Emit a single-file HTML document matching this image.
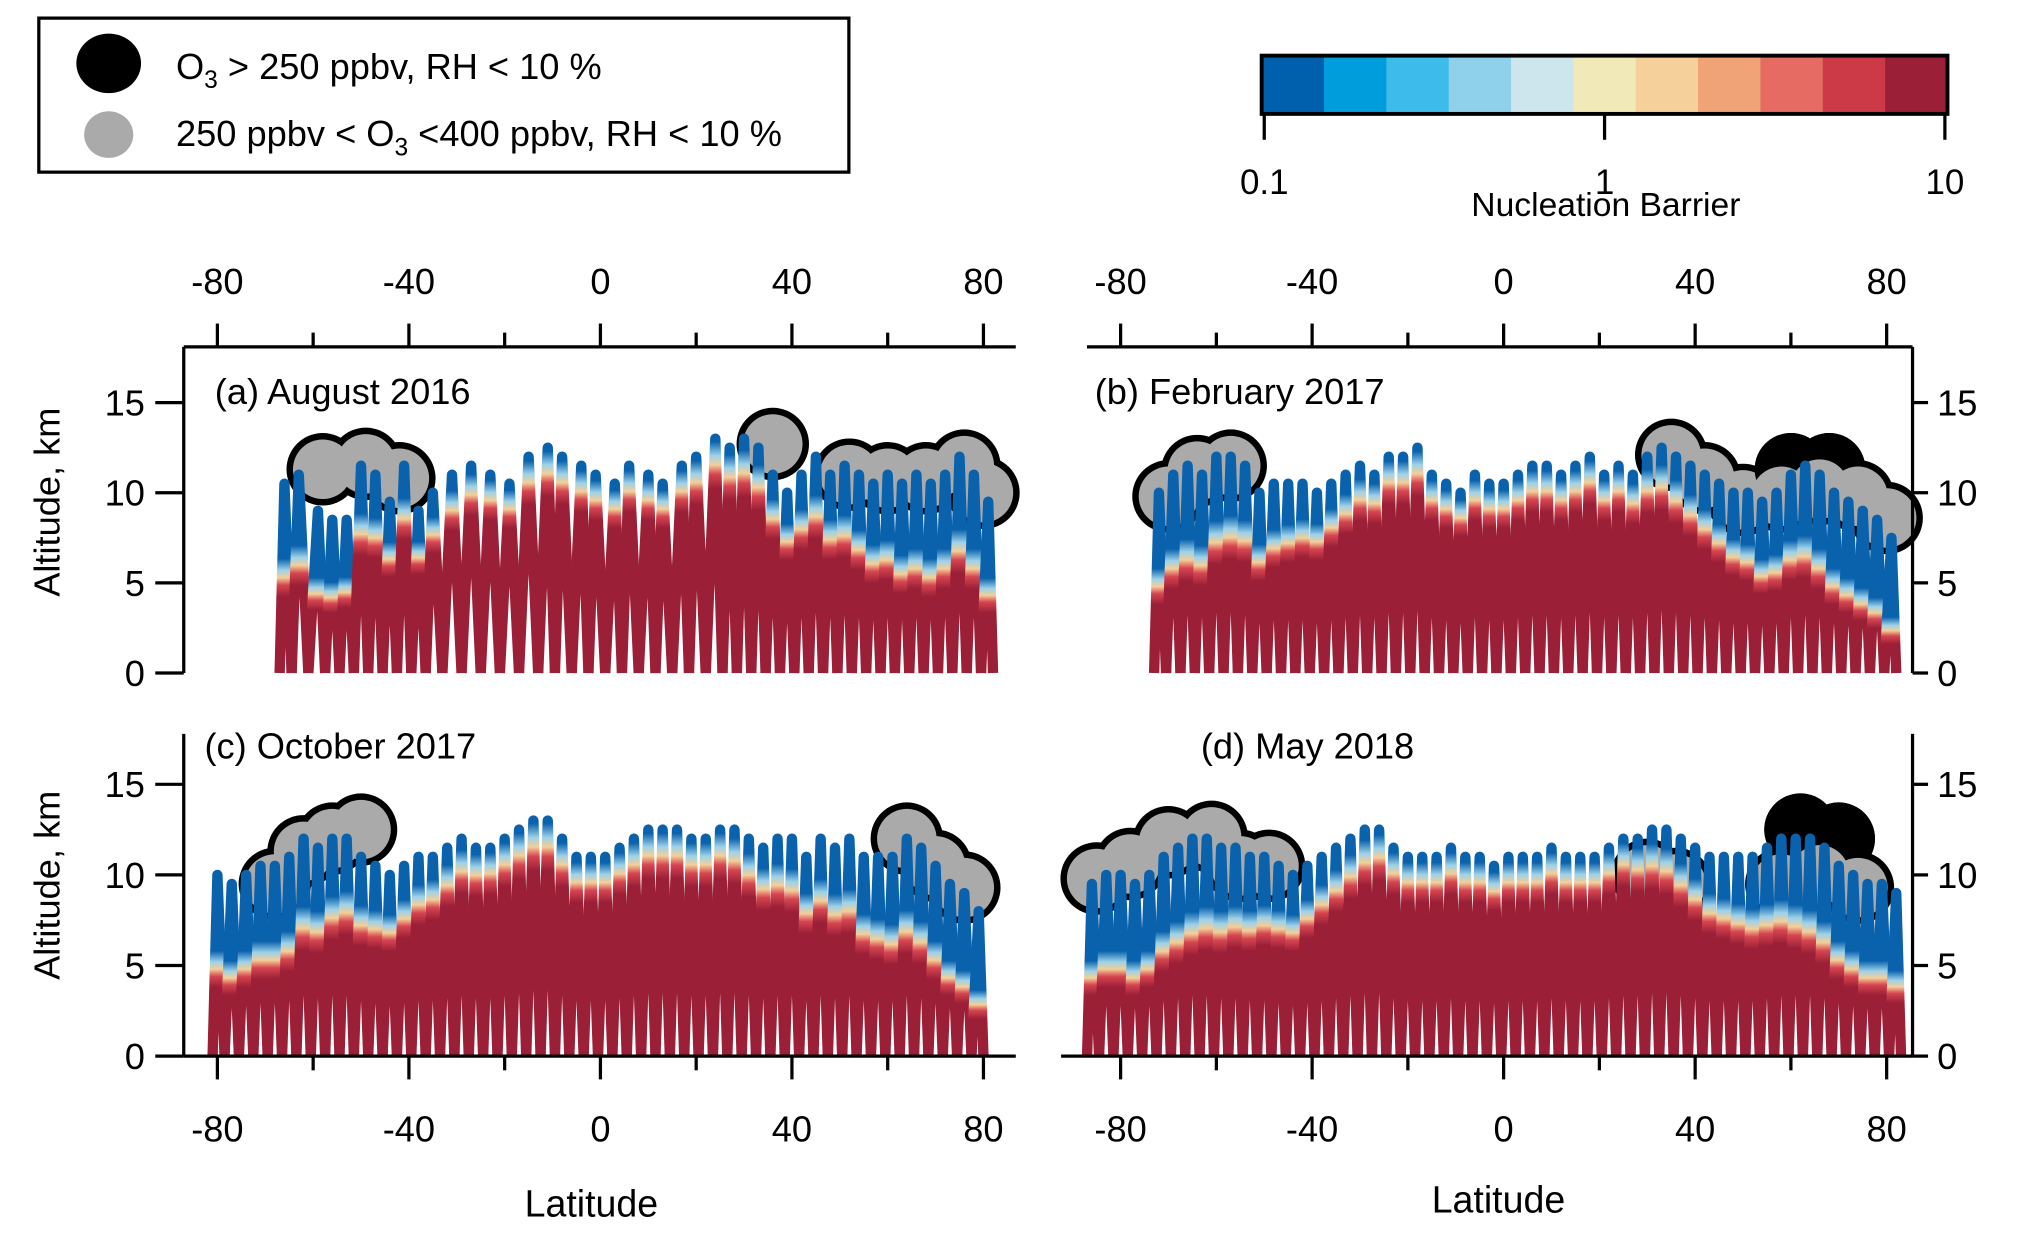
<!DOCTYPE html>
<html><head><meta charset="utf-8"><style>
html,body{margin:0;padding:0;background:#fff;}
svg{display:block;font-family:"Liberation Sans",Arial,sans-serif;}
</style></head><body>
<svg id="fig" width="2029" height="1236" viewBox="0 0 1568 955" preserveAspectRatio="none" xmlns="http://www.w3.org/2000/svg">
<defs></defs>
<g>
<rect x="30" y="14" width="626" height="119" fill="#fff" stroke="#000" stroke-width="2.5"/>
<ellipse cx="84" cy="49" rx="25" ry="23" fill="#000"/>
<ellipse cx="84" cy="104" rx="19" ry="18" fill="#aaa"/>
<text x="136" y="61" font-size="28">O<tspan font-size="19" dy="7">3</tspan><tspan dy="-7"> &gt; 250 ppbv, RH &lt; 10 %</tspan></text>
<text x="136" y="113" font-size="28">250 ppbv &lt; O<tspan font-size="19" dy="7">3</tspan><tspan dy="-7"> &lt;400 ppbv, RH &lt; 10 %</tspan></text>
</g>
<g id="colorbar"></g>
<g id="plots"></g>
</svg>
<script>
const NS="http://www.w3.org/2000/svg";
const svg=document.getElementById('fig');
function mk(tag,attrs,parent){const e=document.createElementNS(NS,tag);for(const k in attrs)e.setAttribute(k,attrs[k]);(parent||svg).appendChild(e);return e;}

// colorbar data
const cbColors=["#0060ad","#009ddc","#3dbbea","#8fd1eb","#cde6ee","#f2e9b8","#f6d09a","#f0a377","#e56b63","#cc3a47","#9b1f37"];
const cbTicks=["0.1","1","10"];

// panel a
const latA=[-66,-63,-59,-56,-53,-50,-47,-44,-41,-38,-35,-31,-27,-23,-19,-15,-11,-8,-4,-1,3,6,10,13,17,20,24,27,30,33,36,39,42,45,48,51,54,57,60,63,66,69,72,75,78,81];
const altA=[10.5,11,9,8.5,8.5,11.5,11,9.5,11.5,9,10,11,11.5,11,10.5,12,12.5,12,11.5,11,10.5,11.5,11,10.5,11.5,12,13,12.5,13,12.5,11,10,11,12,11,11.5,11,10.5,11,10.5,11,10.5,11,12,11,9.5];
const cloudLatA=[-58,-49,-42,36,52,60,68,76,80];
const cloudAltA=[11.3,11.6,10.8,12.7,11,10.8,10.8,11.5,10];
const cloudTypeA=["g","g","g","g","g","g","g","g","g"];
// panel b
const latB=[-72,-69,-66,-63,-60,-57,-54,-51,-48,-45,-42,-39,-36,-33,-30,-27,-24,-21,-18,-15,-12,-9,-6,-3,0,3,6,9,12,15,18,21,24,27,30,33,36,39,42,45,48,51,54,57,60,63,66,69,72,75,78,81];
const altB=[10,11,11.5,11,12,12,11.5,10,10.5,10.5,10.5,10,10.5,11,11.5,11,12,12,12.5,11,10.5,10,11,10.5,10.5,11,11.5,11.5,11,11.5,12,11,11.5,11,12,12.5,12,11.5,11,10.5,10,10,9.5,10,11,11.5,11,10,9.5,9,8.5,7.5];
const cloudLatB=[-70,-64,-57,35,42,50,60,68,58,66,74,80];
const cloudAltB=[9.8,11.2,11.5,12.1,10.8,9.6,11.3,11.3,9.8,10.2,9.8,8.6];
const cloudTypeB=["g","g","g","g","g","g","k","k","g","g","g","g"];
// panel c
const latC=[-80,-77,-74,-71,-68,-65,-62,-59,-56,-53,-50,-47,-44,-41,-38,-35,-32,-29,-26,-23,-20,-17,-14,-11,-8,-5,-2,1,4,7,10,13,16,19,22,25,28,31,34,37,40,43,46,49,52,55,58,61,64,67,70,73,76,79];
const altC=[10,9.5,10,10.5,10.5,11,12,11.5,12,12,11,10.5,10,10.5,11,11,11.5,12,11.5,11.5,12,12.5,13,13,12,11,11,11,11.5,12,12.5,12.5,12.5,12,12,12.5,12.5,12,11.5,12,12,11,12,11.5,12,11,11,11,12,11.5,10.5,9.5,9,8];
const cloudLatC=[-68,-62,-56,-50,64,70,76];
const cloudAltC=[9.5,11.3,12,12.5,12,10.5,9.3];
const cloudTypeC=["g","g","g","g","g","g","g"];
// panel d
const latD=[-86,-83,-80,-77,-74,-71,-68,-65,-62,-59,-56,-53,-50,-47,-44,-41,-38,-35,-32,-29,-26,-23,-20,-17,-14,-11,-8,-5,-2,1,4,7,10,13,16,19,22,25,28,31,34,37,40,43,46,49,52,55,58,61,64,67,70,73,76,79,82];
const altD=[9.5,10,10,9.5,10,11,11.5,12,12,11.5,11.5,11,11,10.5,10,10.5,11,11.5,12,12.5,12.5,11.5,11,11,11,11.5,11,11,10.5,11,11,11,11.5,11,11,11,11.5,12,12,12.5,12.5,12,11.5,11,11,11,11,11.5,12,12,12,11.5,10.5,10,9.5,9.5,9];
const cloudLatD=[-85,-78,-70,-61,-55,-49,30,36,62,70,58,66,74];
const cloudAltD=[9.8,10.6,11.8,12.1,10.5,10.5,10,9.5,12.5,12,9.5,10,9.3];
const cloudTypeD=["g","g","g","g","g","g","g","g","k","k","g","g","g"];

const xTicks=[-80,-40,0,40,80];
const yTicks=[0,5,10,15];

// colorbar
(function(){
  const g=document.getElementById('colorbar');
  const x0=975,x1=1505,w=(x1-x0)/cbColors.length;
  cbColors.forEach((c,i)=>{
    const r=mk('rect',{x:x0+i*w,y:43,width:w+0.5,height:45,fill:c},g);
    
    
  });
  mk('rect',{x:x0,y:43,width:x1-x0,height:45,fill:'none',stroke:'#000','stroke-width':3},g);
  cbTicks.forEach((t,i)=>{
    const x=x0+2+i*(x1-x0-4)/(cbTicks.length-1);
    mk('line',{x1:x,y1:88,x2:x,y2:108,stroke:'#000','stroke-width':2.5},g);
    const tx=mk('text',{x:x,y:150,'font-size':27,'text-anchor':'middle'},g);tx.textContent=t;
    
    
  });
  const tl=mk('text',{x:1241,y:167,'font-size':26,'text-anchor':'middle'},g);tl.textContent='Nucleation Barrier';
  
  
})();

const panels=[
 {id:'a',title:'(a) August 2016',lat:latA,alt:altA,cl:cloudLatA,ca:cloudAltA,ct:cloudTypeA,x0:168,y0:520,ky:13.93,left:true,top:true,ax:[142,785],ay:268,tx:166,ty:312},
 {id:'b',title:'(b) February 2017',lat:latB,alt:altB,cl:cloudLatB,ca:cloudAltB,ct:cloudTypeB,x0:866,y0:520,ky:13.93,left:false,top:true,ax:[840,1478],ay:268,tx:846,ty:312},
 {id:'c',title:'(c) October 2017',lat:latC,alt:altC,cl:cloudLatC,ca:cloudAltC,ct:cloudTypeC,x0:168,y0:816,ky:14,left:true,top:false,ax:[142,785],ay:567,tx:158,ty:586},
 {id:'d',title:'(d) May 2018',lat:latD,alt:altD,cl:cloudLatD,ca:cloudAltD,ct:cloudTypeD,x0:866,y0:816,ky:14,left:false,top:false,ax:[820,1478],ay:567,tx:928,ty:586}
];
const defs=svg.querySelector('defs');
let gid=0;
function segGrad(peak,lat){
  // blue layer depth grows with latitude
  const depth=1.2+3.8*Math.min(1,Math.max(0,(Math.abs(lat)-25)/40));
  const t=Math.max(0.05,(peak-depth)/peak);
  const id='sg'+(gid++);
  const gr=mk('linearGradient',{id:id,x1:0,y1:1,x2:0,y2:0},defs);
  [[0,'#9b1f37'],[t-0.12,'#9b1f37'],[t-0.06,'#d64550'],[t-0.02,'#f4cf98'],[t+0.02,'#9dd2ea'],[t+0.08,'#0a62ad'],[1,'#0a62ad']].forEach(s=>mk('stop',{offset:Math.min(1,Math.max(0,s[0])),'stop-color':s[1]},gr));
  return id;
}
const plots=document.getElementById('plots');
panels.forEach(p=>{
  const g=mk('g',{},plots);
  
  
  const X=lat=>p.x0+(lat+80)*3.7;
  const Y=a=>p.y0-a*p.ky;
  // clouds
  const cg=mk('g',{},g);
  
  
  const n=Math.min(p.cl.length,p.ca.length);
  for(let i=0;i<n;i++){mk('circle',{cx:X(p.cl[i]),cy:Y(p.ca[i]),r:28,fill:'#000'},cg);}
  for(let i=0;i<n;i++){
    const c=mk('circle',{cx:X(p.cl[i]),cy:Y(p.ca[i]),r:p.ct[i]==='k'?28:23,fill:p.ct[i]==='k'?'#000':'#aaa'},cg);
    
    
  }
  // profiles: each up-down leg as its own segment
  const pg=mk('g',{},g);
  
  
  const m=Math.min(p.lat.length,p.alt.length);
  for(let i=0;i<m;i++){
    const pl=i>0?(p.lat[i-1]+p.lat[i])/2:p.lat[i]-1;
    const nl=i<m-1?(p.lat[i]+p.lat[i+1])/2:p.lat[i]+1;
    const d='M'+X(pl)+','+Y(0)+' L'+X(p.lat[i])+','+Y(p.alt[i])+' L'+X(nl)+','+Y(0);
    const id=segGrad(p.alt[i],p.lat[i]);
    const path=mk('path',{d:d,fill:'none',stroke:'url(#'+id+')','stroke-width':8,'stroke-linejoin':'round'},pg);
    
    
  }
  // axes
  const ag=mk('g',{stroke:'#000','stroke-width':2.5,fill:'none'},g);
  
  
  const yAxX=p.left?142:1478;
  mk('line',{x1:yAxX,y1:p.ay,x2:yAxX,y2:p.y0},ag);
  const hy=p.top?268:p.y0;
  mk('line',{x1:p.ax[0],y1:hy,x2:p.ax[1],y2:hy},ag);
  for(let lat=-80;lat<=80;lat+=20){
    const major=lat%40===0;
    const len=major?18:11;
    const x=X(lat);
    if(p.top) mk('line',{x1:x,y1:268,x2:x,y2:268-len},ag);
    else mk('line',{x1:x,y1:p.y0,x2:x,y2:p.y0+len},ag);
  }
  xTicks.forEach(t=>{
    const tx=mk('text',{x:X(t),y:p.top?227:882,'font-size':28,'text-anchor':'middle'},g);
    tx.textContent=String(t);
    
    
  });
  yTicks.forEach(t=>{
    const y=Y(t);
    if(p.left){mk('line',{x1:120,y1:y,x2:142,y2:y},ag);}
    else{mk('line',{x1:1478,y1:y,x2:1490,y2:y},ag);}
    const tx=mk('text',{x:p.left?112:1497,y:y+10,'font-size':28,'text-anchor':p.left?'end':'start'},g);
    tx.textContent=String(t);
    
    
  });
  const tt=mk('text',{x:p.tx,y:p.ty,'font-size':28},g);tt.textContent=p.title;
  
  
  if(p.left){
    const yl=mk('text',{x:0,y:0,'font-size':28,'text-anchor':'middle',transform:'translate(46,'+(p.y0-132)+') rotate(-90)'},g);
    yl.textContent='Altitude, km';
    
    
  }
  if(!p.top){
    const xl=mk('text',{x:p.left?457:1158,y:p.left?940:937,'font-size':29,'text-anchor':'middle'},g);
    xl.textContent='Latitude';
    
    
  }
});
</script>
</body></html>
